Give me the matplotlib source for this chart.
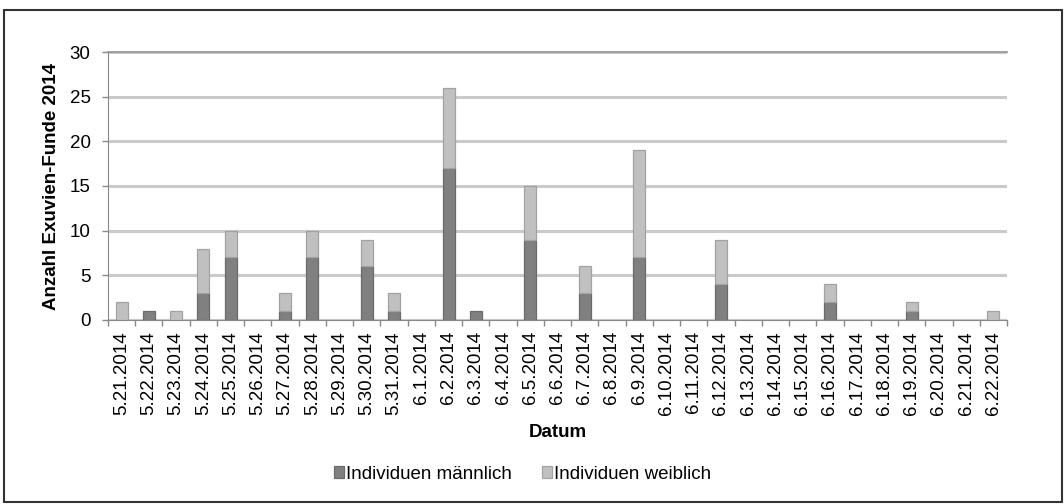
import numpy as np
import matplotlib.pyplot as plt
from matplotlib.patches import Rectangle

plt.rcParams['font.family'] = ['Liberation Sans', 'DejaVu Sans']

dates = ['5.21.2014', '5.22.2014', '5.23.2014', '5.24.2014', '5.25.2014', '5.26.2014',
         '5.27.2014', '5.28.2014', '5.29.2014', '5.30.2014', '5.31.2014', '6.1.2014',
         '6.2.2014', '6.3.2014', '6.4.2014', '6.5.2014', '6.6.2014', '6.7.2014',
         '6.8.2014', '6.9.2014', '6.10.2014', '6.11.2014', '6.12.2014', '6.13.2014',
         '6.14.2014', '6.15.2014', '6.16.2014', '6.17.2014', '6.18.2014', '6.19.2014',
         '6.20.2014', '6.21.2014', '6.22.2014']
male = [0, 1, 0, 3, 7, 0, 1, 7, 0, 6, 1, 0, 17, 1, 0, 9, 0, 3, 0, 7, 0, 0, 4, 0,
        0, 0, 2, 0, 0, 1, 0, 0, 0]
female = [2, 0, 1, 5, 3, 0, 2, 3, 0, 3, 2, 0, 9, 0, 0, 6, 0, 3, 0, 12, 0, 0, 5, 0,
          0, 0, 2, 0, 0, 1, 0, 0, 1]

fs = 13.5
fig = plt.figure(figsize=(10.64, 5.04), dpi=100)
ax = fig.add_axes([108 / 1064, 184 / 504, 899 / 1064, 268 / 504])

x = np.arange(len(dates))
# no outline on empty segments
male_lw = [0.9 if v else 0 for v in male]
female_lw = [0.9 if v else 0 for v in female]
ax.bar(x, male, width=0.44, color='#808080', edgecolor='#6b6b6b', linewidth=male_lw,
       label='Individuen männlich', zorder=3)
ax.bar(x, female, width=0.44, bottom=male, color='#c0c0c0', edgecolor='#a2a2a2',
       linewidth=female_lw, label='Individuen weiblich', zorder=3)

ax.set_xlim(-0.5, len(dates) - 0.5)
ax.set_ylim(0, 30)
ax.set_yticks(range(0, 31, 5))
ax.yaxis.grid(True, color='#cacaca', linewidth=2.2, zorder=0)
ax.set_axisbelow(True)

ax.set_xticks(x)
ax.set_xticklabels(dates, rotation=90, fontsize=fs)
ax.set_xticks(np.arange(-0.5, len(dates), 1), minor=True)
ax.tick_params(axis='x', which='major', length=0, pad=8)
ax.tick_params(axis='x', which='minor', length=4.5, color='#888888', width=1)
ax.tick_params(axis='y', length=4.5, color='#888888', width=1, labelsize=fs, pad=8)

ax.spines['right'].set_visible(False)
ax.spines['top'].set_color('#9a9a9a')
ax.spines['top'].set_linewidth(1.3)
ax.spines['left'].set_color('#888888')
ax.spines['bottom'].set_color('#888888')

ax.set_ylabel('Anzahl Exuvien-Funde 2014', fontsize=fs, fontweight='bold')
ax.yaxis.label.set_va('center')
ax.yaxis.set_label_coords(-0.0623, 0.5)
ax.set_xlabel('Datum', fontsize=fs, fontweight='bold')
ax.xaxis.label.set_va('center')
ax.xaxis.set_label_coords(0.5, -0.4216)

leg = fig.legend(loc='center', bbox_to_anchor=(0.491, 0.0595), ncol=2, frameon=False,
                 fontsize=fs, handlelength=0.55, handleheight=0.55, handletextpad=0.1,
                 columnspacing=1.6, borderaxespad=0, borderpad=0)
for handle in leg.legend_handles:
    handle.set_linewidth(0.9)

fig.patches.append(Rectangle((4 / 1064, 2 / 504), 1058 / 1064, 492 / 504,
                             transform=fig.transFigure, fill=False,
                             edgecolor='#333333', linewidth=1.5))

fig.savefig('out.png', dpi=100)
